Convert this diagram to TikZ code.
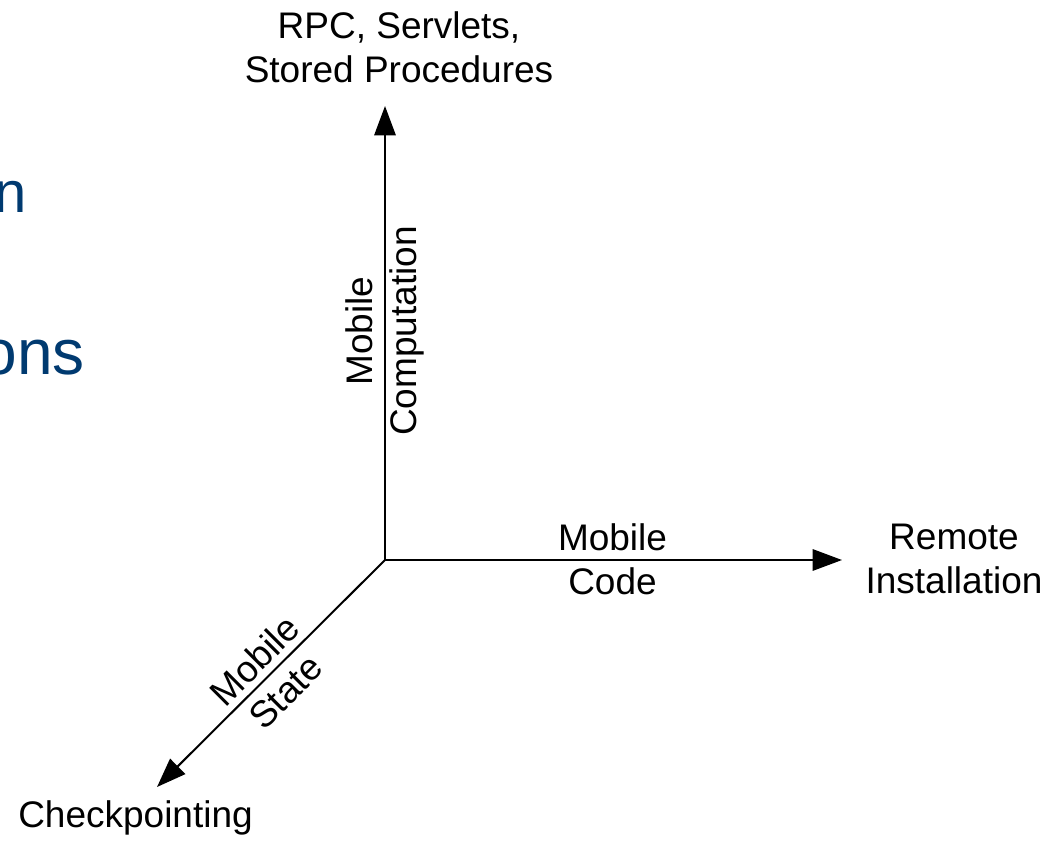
\documentclass[tikz,border=0pt]{standalone}
\usepackage{fontspec}
\setmainfont{Liberation Sans}
\usetikzlibrary{arrows.meta}
\definecolor{slideblue}{HTML}{003A70}
\begin{document}
\begin{tikzpicture}[x=0.75pt,y=-0.75pt,
  axis/.style={line width=1.5pt,-{Triangle[length=22pt,width=16pt]}},
  lbl/.style={font=\fontsize{27.75}{33}\selectfont,align=center,inner sep=0pt},
  bg/.style={font=\fontsize{#1}{#1}\selectfont,text=slideblue,inner sep=0pt,anchor=base east}]
\useasboundingbox[fill=white] (0,0) rectangle (1063,842);
% clipped slide text behind
\node[bg=43.5] (t1) at (27,212) {n};
\node[bg=48] (t2) at (85,374) {ons};
% axes
\coordinate (O) at (385,560);
\coordinate (up) at (385,106);
\coordinate (right) at (842,560);
\coordinate (down) at (157,787);
\draw[axis] (O) -- (up);
\draw[axis] (O) -- (right);
\draw[axis] (O) -- (down);
% end labels
\node[lbl] (rpc) at (399,47) {RPC, Servlets,\\Stored Procedures};
\node[lbl] (rem) at (954,559) {Remote\\Installation};
\node[lbl] (chk) at (135.5,818) {Checkpointing};
% axis labels
\node[lbl,rotate=90] (mc) at (385,331) {Mobile\\Computation};
\node[lbl] (mcode) at (612.5,559) {Mobile\\Code};
\node[lbl,rotate=45] (ms) at (270,676) {Mobile\\State};
\end{tikzpicture}
\end{document}
